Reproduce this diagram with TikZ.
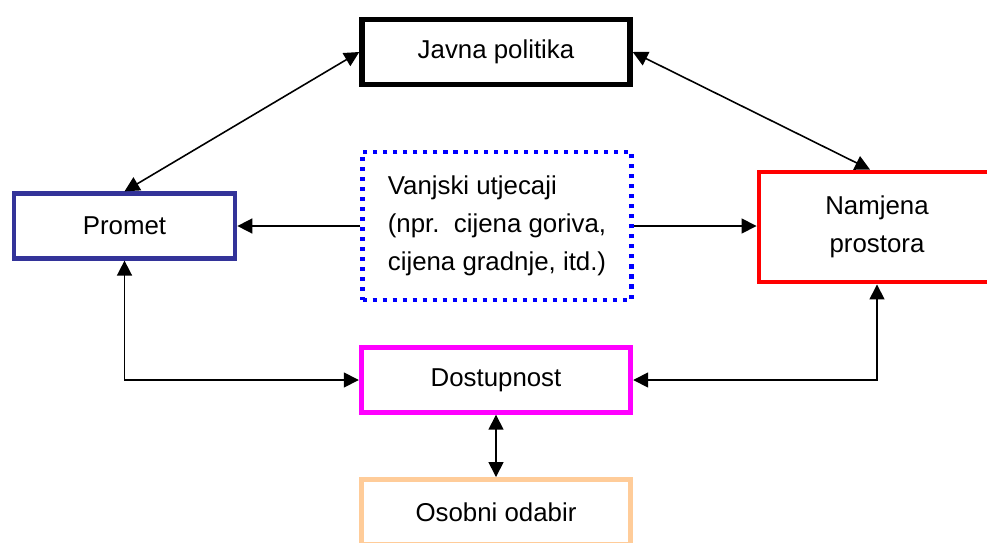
\documentclass[tikz,border=0pt]{standalone}
\usepackage{fontspec}
\setmainfont{Liberation Sans}
\usepackage{tikz}
\usetikzlibrary{positioning,arrows.meta,calc}
\definecolor{prometblue}{HTML}{333399}
\definecolor{dostmagenta}{HTML}{FF00FF}
\definecolor{vanjskiblue}{HTML}{0000FF}
\definecolor{namjenared}{HTML}{FF0000}
\definecolor{peach}{HTML}{FFCC99}

\begin{document}
\begin{tikzpicture}[
  line width=0.9pt,
  every node/.style={font=\fontsize{14.7}{21.5}\selectfont},
  box/.style={draw,rectangle,inner sep=0pt,minimum height=1.29cm},
  link/.style={-{Triangle[length=8.5pt,width=8.5pt]}},
  twoway/.style={{Triangle[length=8.5pt,width=8.5pt]}-{Triangle[length=8.5pt,width=8.5pt]}}
]
\useasboundingbox (0,0) rectangle (19.74,10.84);

% boxes
\node[box,line width=3.1pt,minimum width=5.36cm] (javna) at (9.92,9.80) {Javna politika};
\node[box,draw=prometblue,line width=2.7pt,minimum width=4.42cm] (promet) at (2.49,6.32) {Promet};
\node[box,draw=vanjskiblue,line width=2.3pt,dash pattern=on 2.3pt off 3.4pt,
      minimum width=5.38cm,minimum height=2.96cm,align=left] (vanjski) at (9.94,6.32)
  {Vanjski utjecaji\\(npr.\ \ cijena goriva,\\cijena gradnje, itd.)};
\node[box,draw=namjenared,line width=2.8pt,minimum width=4.72cm,minimum height=2.2cm,align=center]
  (namjena) at (17.54,6.30) {Namjena\\prostora};
\node[box,draw=dostmagenta,line width=2.8pt,minimum width=5.39cm] (dost) at (9.92,3.24) {Dostupnost};
\node[box,draw=peach,line width=3.1pt,minimum width=5.39cm] (osobni) at (9.92,0.60) {Osobni odabir};

% veze
\draw[twoway] (javna.west) -- (promet.north);
\draw[twoway] (javna.east) -- ([xshift=-0.14cm]namjena.north);
\draw[link] (vanjski.west) -- (promet.east);
\draw[link] (vanjski.east) -- (vanjski.east -| namjena.west);
\draw[twoway] (promet.south) |- (dost.west);
\draw[twoway] (namjena.south) |- (dost.east);
\draw[twoway] (dost.south) -- (osobni.north);
\end{tikzpicture}
\end{document}
